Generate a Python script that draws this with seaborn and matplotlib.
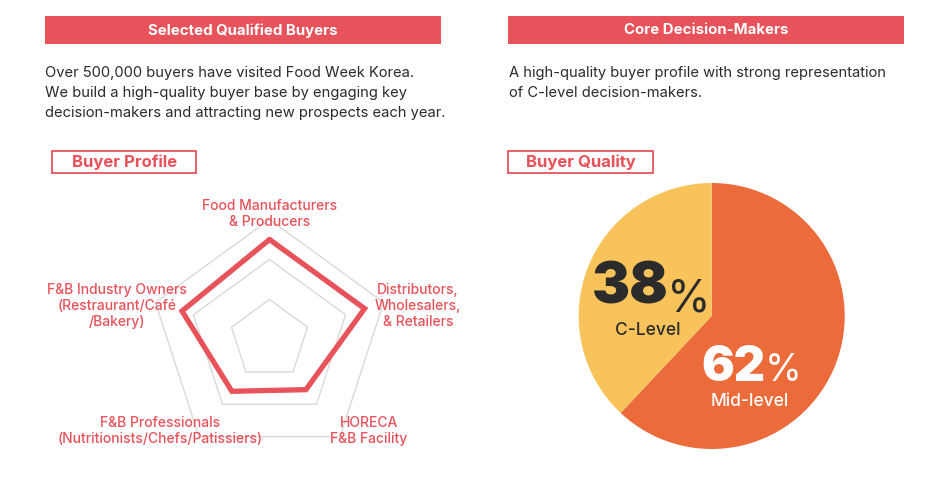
import numpy as np
import pandas as pd
import matplotlib
matplotlib.use("Agg")
import matplotlib.pyplot as plt
from matplotlib.patches import Rectangle
import seaborn as sns

# ---------------- data ----------------
radar_categories = ["Food Manufacturers\n& Producers",
                    "Distributors,\nWholesalers,\n& Retailers",
                    "HORECA\nF&B Facility",
                    "F&B Professionals\n(Nutritionists/Chefs/Patissiers)",
                    "F&B Industry Owners\n(Restraurant/Café\n/Bakery)"]
radar_values = [2.5, 2.5, 1.55, 1.6, 2.3]
grid_levels = [1, 2, 3]

pie_labels = ["Mid-level", "C-Level"]
pie_values = [62, 38]

header_titles = ["Selected Qualified Buyers", "Core Decision-Makers"]
body_texts = ["Over 500,000 buyers have visited Food Week Korea.\nWe build a high-quality buyer base by engaging key\ndecision-makers and attracting new prospects each year.",
              "A high-quality buyer profile with strong representation\nof C-level decision-makers."]
box_titles = ["Buyer Profile", "Buyer Quality"]

# ---------------- style ----------------
sns.set_theme(style="white")
plt.rcParams['font.family'] = ['Inter', 'DejaVu Sans']

RED = "#E8525A"
ORANGE = "#EC6B3A"
YELLOW = "#F8C35A"
DARK = "#2B2B2B"
GRID = "#D9D9D9"

W, H = 953, 486
fig = plt.figure(figsize=(W / 100, H / 100), dpi=100)
fig.patch.set_facecolor("white")


def fx(x):
    return x / W


def fy(y):
    return 1 - y / H


# headers
for (x0, x1), title in zip([(45, 441), (508, 904)], header_titles):
    fig.patches.append(Rectangle((fx(x0), fy(44.5)), fx(x1) - fx(x0), fy(16) - fy(44.5),
                                 transform=fig.transFigure, facecolor=RED, edgecolor="none"))
    fig.text(fx((x0 + x1) / 2), fy(30.5), title, ha="center", va="center",
             color="white", fontsize=10.8, fontweight="bold")

# body text
for x0, txt in zip([45, 509], body_texts):
    fig.text(fx(x0), fy(65.5), txt, ha="left", va="top", color=DARK,
             fontsize=10.6, linespacing=1.55)

# boxed titles
for (x0, x1), t in zip([(52.5, 196.5), (508.5, 652.5)], box_titles):
    fig.patches.append(Rectangle((fx(x0), fy(173)), fx(x1) - fx(x0), fy(151) - fy(173),
                                 transform=fig.transFigure, facecolor="white",
                                 edgecolor=RED, linewidth=1.3))
    fig.text(fx((x0 + x1) / 2), fy(162.5), t, ha="center", va="center",
             color=RED, fontsize=12, fontweight="bold")

# ---------------- radar ----------------
cx, cy, unit = 269.5, 339.5, 40.0
half = 3.6
ax = fig.add_axes([fx(cx - half * unit), fy(cy + half * unit),
                   2 * half * unit / W, 2 * half * unit / H])
ax.set_xlim(-half, half)
ax.set_ylim(-half, half)
ax.set_aspect("equal")
ax.axis("off")

n = len(radar_categories)
angles = np.arange(n) * 2 * np.pi / n
for lv in grid_levels:
    gx = np.append(lv * np.sin(angles), lv * np.sin(angles[0]))
    gy = np.append(lv * np.cos(angles), lv * np.cos(angles[0]))
    ax.plot(gx, gy, color=GRID, lw=1.0, zorder=1)

vals = np.array(radar_values)
df = pd.DataFrame({"x": np.append(vals * np.sin(angles), vals[0] * np.sin(angles[0])),
                   "y": np.append(vals * np.cos(angles), vals[0] * np.cos(angles[0])),
                   "order": np.arange(n + 1)})
sns.lineplot(data=df, x="x", y="y", sort=False, estimator=None, color=RED,
             lw=3.8, ax=ax, zorder=3)
ax.lines[-1].set_solid_joinstyle("miter")

label_pos = [(270, 214), (418, 306), (369, 431), (160, 431), (117, 306)]
for (lx, ly), lab in zip(label_pos, radar_categories):
    fig.text(fx(lx), fy(ly), lab, ha="center", va="center", color=RED,
             fontsize=10, fontweight="medium", linespacing=1.15)

# ---------------- pie ----------------
pcx, pcy, pr = 711.7, 316.0, 133.0
pax = fig.add_axes([fx(pcx - pr), fy(pcy + pr), 2 * pr / W, 2 * pr / H])
pax.pie(pie_values, colors=[ORANGE, YELLOW], startangle=90, counterclock=False,
        radius=1.0, wedgeprops=dict(linewidth=0))
pax.set_xlim(-1, 1)
pax.set_ylim(-1, 1)
pax.set_aspect("equal")
pax.axis("off")

# C-Level
fig.text(fx(668.5), fy(303), f"{pie_values[1]}", ha="right", va="baseline",
         color=DARK, fontsize=41, fontweight="black")
fig.text(fx(667), fy(311), "%", ha="left", va="baseline", color=DARK, fontsize=32)
fig.text(fx(648), fy(330), pie_labels[1], ha="center", va="center", color=DARK,
         fontsize=12.5, fontweight="medium")
# Mid-level
fig.text(fx(765.5), fy(381), f"{pie_values[0]}", ha="right", va="baseline",
         color="white", fontsize=35, fontweight="black")
fig.text(fx(765), fy(381), "%", ha="left", va="baseline", color="white", fontsize=27)
fig.text(fx(750), fy(401), pie_labels[0], ha="center", va="center", color="white",
         fontsize=12.5, fontweight="medium")

fig.savefig("out.png", dpi=100, facecolor="white")
